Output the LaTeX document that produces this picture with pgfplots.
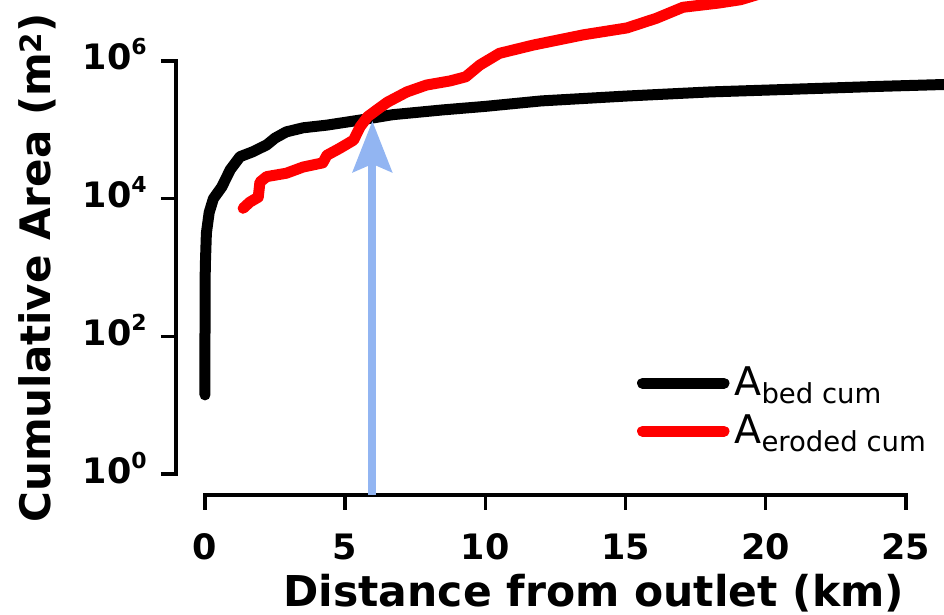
\documentclass[border=0pt]{standalone}
\usepackage{fontspec}
\setmainfont{DejaVu Sans}
\usepackage{pgfplots}
\pgfplotsset{compat=1.18}
\usetikzlibrary{arrows.meta}
\definecolor{arrowblue}{RGB}{146,181,242}
\newcommand{\sps}[1]{\raisebox{15pt}{\fontsize{22}{22}\selectfont #1}}
\begin{document}
\begin{tikzpicture}
\begin{axis}[
  name=ax,
  scale only axis, width=768pt, height=495pt,
  xmin=-1.034, xmax=26.36,
  ymode=log, ymin=0.4955, ymax=7.69e6,
  axis lines=left,
  axis line style={-, draw=none},
  clip mode=individual,
  xtick={0,5,10,15,20,25},
  ytick={1,100,10000,1000000},
  yticklabels={10\sps{0},10\sps{2},10\sps{4},10\sps{6}},
  xminorticks=false, yminorticks=false,
  tick align=outside,
  major tick length=15pt,
  tick style={black, line width=3.5pt},
  every tick label/.append style={font=\bfseries\fontsize{35}{35}\selectfont},
  /pgf/number format/assume math mode=true,
  xticklabel style={anchor=base, inner sep=0pt, yshift=-50pt},
  yticklabel style={anchor=base east, inner sep=0pt, yshift=-9pt, xshift=-14pt},
  xlabel={Distance from outlet (km)},
  ylabel={Cumulative Area (m\textsuperscript{2})},
  every axis x label/.style={at={(axis description cs:0.544,-0.226)}, anchor=base, font=\bfseries\fontsize{42.5}{42.5}\selectfont},
  every axis y label/.style={at={(axis description cs:-0.181,0.459)}, anchor=center, rotate=90, font=\bfseries\fontsize{42}{42}\selectfont},
  legend style={draw=none, fill=none, at={(axis description cs:0.600,0.2586)}, anchor=north west,
    inner sep=0pt, row sep=12pt, column sep=5pt, font=\fontsize{39.5}{39.5}\selectfont,
    cells={anchor=base west}, nodes={inner sep=0pt, text height=28pt, text depth=8pt}},
  legend image code/.code={\draw[#1, line cap=round] (0pt,12pt) -- (81.5pt,12pt);},
]
\addplot[black, line width=11pt, line join=round, line cap=round] coordinates {
(0,14.1) (0.0,100) (0.01,1000) (0.05,3162) (0.15,6310) (0.3,1.0e4) (0.6,1.48e4)
(0.9,2.63e4) (1.25,4.07e4) (1.7,4.79e4) (2.2,6.03e4) (2.5,7.59e4) (2.9,9.33e4)
(3.5,1.07e5) (4.35,1.17e5) (5.5,1.38e5) (6.7,1.66e5) (8.5,1.95e5) (10,2.19e5)
(12,2.63e5) (15,3.09e5) (18,3.55e5) (21,3.89e5) (24,4.27e5) (26.5,4.57e5)
};
\addlegendentry{A\raisebox{-8pt}{\fontsize{27.5}{27.5}\selectfont bed cum}}
\addplot[red, line width=11pt, line join=round, line cap=round] coordinates {
(1.36,7.24e3) (1.6,8.91e3) (1.9,1.05e4) (1.96,1.74e4) (2.2,2.09e4) (2.9,2.34e4)
(3.5,2.88e4) (4.2,3.31e4) (4.35,4.27e4) (4.8,5.37e4) (5.3,7.08e4) (5.53,1.10e5)
(5.8,1.55e5) (6.13,1.95e5) (6.5,2.51e5) (7.2,3.55e5) (7.9,4.47e5) (8.74,5.13e5)
(9.3,5.89e5) (9.8,8.71e5) (10.5,1.29e6) (11.7,1.70e6) (13.5,2.40e6) (15.05,3.02e6)
(16.1,4.17e6) (17.05,6.03e6) (18.3,6.92e6) (19.1,7.76e6) (20,1.0e7)
};
\addlegendentry{A\raisebox{-8pt}{\fontsize{27.5}{27.5}\selectfont eroded cum}}
\draw[line width=3.5pt, line cap=rect] (axis cs:-1.034,1) -- (axis cs:-1.034,1e6);
\draw[line width=3.5pt, line cap=rect] (axis cs:0,0.4955) -- (axis cs:25,0.4955);
\draw[arrowblue, line width=8pt, -{Stealth[length=51pt, width=39pt, inset=8pt]}] (axis cs:5.97,0.4955) -- (axis cs:5.97,1.345e5);
\end{axis}
\pgfresetboundingbox
\path ([shift={(-176pt,-120pt)}]ax.south west) rectangle ([shift={(768pt,495pt)}]ax.south west);
\end{tikzpicture}
\end{document}
